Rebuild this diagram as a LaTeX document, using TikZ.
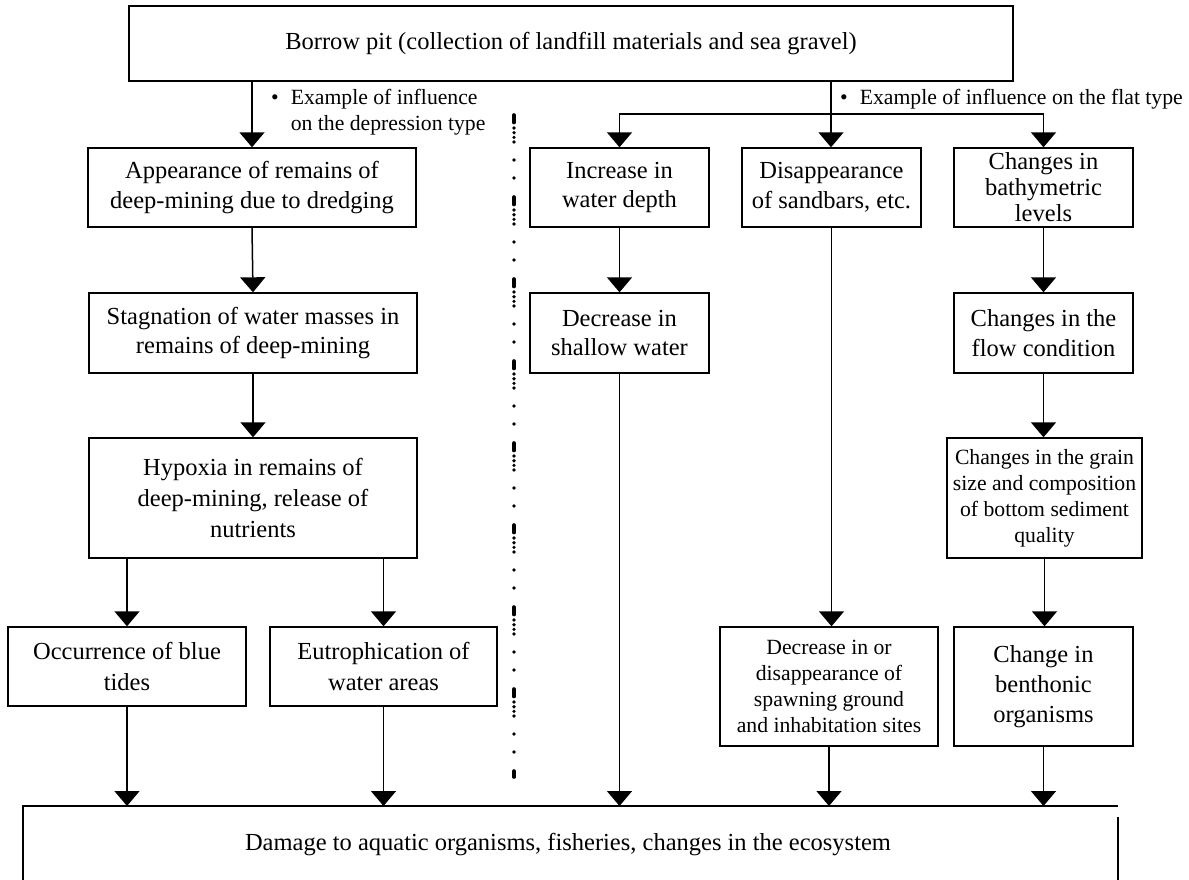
\documentclass[tikz,border=0pt]{standalone}
\usepackage{fontspec}
\setmainfont{Liberation Serif}
\usetikzlibrary{arrows.meta}
\begin{document}
\begin{tikzpicture}[x=1pt,y=-1pt,
  box/.style={draw,line width=1.4pt,inner sep=0pt,align=center,font=\fontsize{24.5}{29.5}\selectfont},
  sbox/.style={box,font=\fontsize{21.7}{26}\selectfont},
  conn/.style={line width=1.5pt},
  arr/.style={conn,-{Triangle[width=25pt,length=15pt]}},
  lbl/.style={font=\fontsize{21.7}{26}\selectfont,inner sep=0pt},
  divider/.style={line width=3.6pt,line cap=round,dash pattern=on 7.5pt off 5.5pt on 0pt off 4.7pt on 0pt off 4.7pt on 0pt off 4.6pt on 0pt off 18pt on 0pt off 18pt on 0pt off 19pt}]
\useasboundingbox (0,0) rectangle (1189,879);

% top
\node[box,minimum width=884pt,minimum height=75pt] (T) at (571,43.5) {Borrow pit (collection of landfill materials and sea gravel)};

% left column
\node[box,minimum width=328pt,minimum height=79pt] (A) at (252,187.5) {Appearance of remains of\\deep-mining due to dredging};
\node[box,minimum width=328pt,minimum height=80pt] (B) at (253,333) {Stagnation of water masses in\\remains of deep-mining};
\node[box,minimum width=328pt,minimum height=120pt,font=\fontsize{24.5}{31}\selectfont] (C) at (253,498) {Hypoxia in remains of\\deep-mining, release of\\nutrients};
\node[box,minimum width=238pt,minimum height=79pt,font=\fontsize{24.5}{31}\selectfont] (D) at (127,666.5) {Occurrence of blue\\tides};
\node[box,minimum width=227pt,minimum height=79pt,font=\fontsize{24.5}{31}\selectfont] (E) at (383.5,666.5) {Eutrophication of\\water areas};

% right columns
\node[box,minimum width=179pt,minimum height=79pt] (F1) at (619.5,187.5) {Increase in\\water depth};
\node[box,minimum width=179pt,minimum height=79pt] (F2) at (831.5,187.5) {Disappearance\\of sandbars, etc.};
\node[box,minimum width=179pt,minimum height=79pt,font=\fontsize{24.5}{26}\selectfont] (F3) at (1043.5,187.5) {Changes in\\bathymetric\\levels};
\node[box,minimum width=179pt,minimum height=80pt] (G1) at (619.5,333) {Decrease in\\shallow water};
\node[box,minimum width=179pt,minimum height=80pt] (G3) at (1043.5,333) {Changes in the\\flow condition};
\node[sbox,minimum width=195pt,minimum height=120pt] (H3) at (1044.5,498) {Changes in the grain\\size and composition\\of bottom sediment\\quality};
\node[sbox,minimum width=218pt,minimum height=119pt] (I2) at (829,686.5) {Decrease in or\\disappearance of\\spawning ground\\and inhabitation sites};
\node[box,minimum width=179pt,minimum height=119pt,font=\fontsize{24.5}{30}\selectfont] (I3) at (1043.5,686.5) {Change in\\benthonic\\organisms};

% bottom box (open at the bottom of the page)
\node[inner sep=0pt,minimum width=1095pt,minimum height=150pt,anchor=north] (Z) at (570.5,806) {};
\node[inner sep=0pt,font=\fontsize{24.5}{29.5}\selectfont] (Zt) at (568,845) {Damage to aquatic organisms, fisheries, changes in the ecosystem};
\draw[line width=1.4pt] (Z.south west) -- (Z.north west) -- (Z.north east);
\draw[line width=2.4pt] ([yshift=-11pt]Z.north east) -- (Z.south east);

% labels
\node[lbl,anchor=west] (L1) at (271,112) {\begin{tabular}{@{}l@{\hspace{12pt}}l@{}}\textbullet & Example of influence\\ & on the depression type\end{tabular}};
\node[lbl,anchor=west] (L2) at (840,99) {\textbullet\hspace{12pt}Example of influence on the flat type};

% divider
\coordinate (dtop) at (514,115);
\coordinate (dbot) at (514,777);
\draw[divider] (dtop) -- (dbot);

% left connectors
\draw[arr] (A.north |- T.south) -- (A.north);
\draw[arr] (A.south) -- (B.north);
\draw[arr] (B.south) -- (C.north);
\draw[arr] (D.north |- C.south) -- (D.north);
\draw[arr] (E.north |- C.south) -- (E.north);
\draw[arr] (D.south) -- (D.south |- Z.north);
\draw[arr] (E.south) -- (E.south |- Z.north);

% right connectors
\coordinate (br) at (831,114);
\draw[conn] (br |- T.south) -- (br);
\draw[arr] (br) -- (br |- F2.north);
\draw[arr] (br) -| (F1.north);
\draw[arr] (br) -| (F3.north);
\draw[arr] (F1.south) -- (G1.north);
\draw[arr] (G1.south) -- (G1.south |- Z.north);
\draw[arr] (F2.south) -- (F2.south |- I2.north);
\draw[arr] (I2.south) -- (I2.south |- Z.north);
\draw[arr] (F3.south) -- (G3.north);
\draw[arr] (G3.south) -- (G3.south |- H3.north);
\draw[arr] (H3.south) -- (H3.south |- I3.north);
\draw[arr] (I3.south) -- (I3.south |- Z.north);
\end{tikzpicture}
\end{document}
